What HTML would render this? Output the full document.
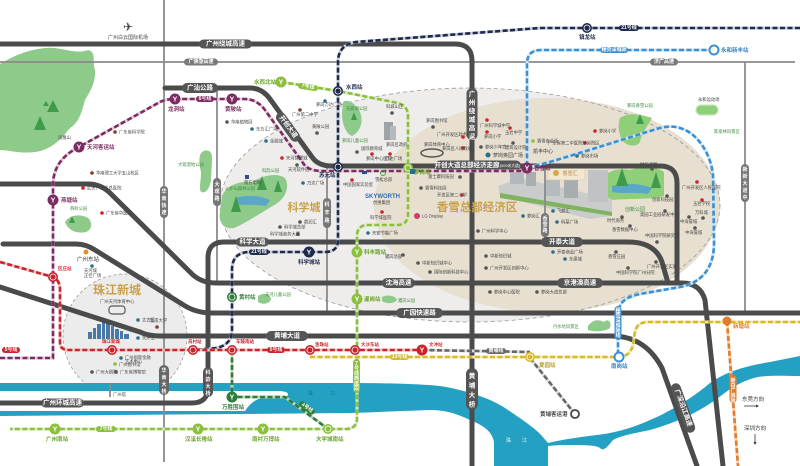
<!DOCTYPE html>
<html><head><meta charset="utf-8">
<style>
html,body{margin:0;padding:0;background:#fff;}
svg{display:block;font-family:"Liberation Sans","Noto Sans CJK SC",sans-serif;}
.rd{fill:none;stroke:#4b4b4b;stroke-width:5;stroke-linecap:round;stroke-linejoin:round}
.tr{fill:none;stroke:#8a8a8a;stroke-width:1.8}
.pl{fill:#555}
.pt{fill:#fff;font-size:6.5px;font-weight:bold;text-anchor:middle;dominant-baseline:central}
.ps{fill:#fff;font-size:5px;font-weight:bold;text-anchor:middle;dominant-baseline:central}
.u{fill:none;stroke-width:3}
.d{fill:none;stroke-width:2.6;stroke-dasharray:5 2.5}
.poi{font-size:4.3px;fill:#444}
.st{font-size:5.5px;font-weight:bold}
.yt{fill:#fff;font-size:7px;font-weight:bold;text-anchor:middle}
</style></head><body>
<svg width="800" height="466" viewBox="0 0 800 466" xmlns="http://www.w3.org/2000/svg">
<rect width="800" height="466" fill="#fff"/>

<!-- zones -->
<ellipse cx="470" cy="205" rx="250" ry="117" fill="#eeedeb"/>
<ellipse cx="547" cy="205" rx="173" ry="107" fill="#e7dfcf"/>
<ellipse cx="470" cy="205" rx="250" ry="117" fill="none" stroke="#9a9a9a" stroke-width="0.8" stroke-dasharray="4 3"/>
<circle cx="125" cy="336" r="62" fill="#ececec" stroke="#9a9a9a" stroke-width="0.8" stroke-dasharray="3 2.5"/>

<!-- river -->
<path d="M0,383 L348,383 C390,383 420,384 440,386 C465,390 490,398 505,408 C520,418 535,428 542,436 L548,443 C560,440 580,437 597,435 C615,433 635,427 650,420 C665,414 690,400 710,383 C725,372 745,366 770,362 L800,356 L800,376 C785,376 770,375 758,377 C745,380 735,385 722,395 C705,408 685,420 650,430 C630,434 620,436 613,440 C608,446 604,452 600,448 C596,445 585,445 560,445 L548,446 L548,466 L494,466 L494,442 C492,432 485,426 470,420 C455,413 445,410 430,410 C400,411 380,412 350,413 L0,416 Z" fill="#23a0c2"/>
<path d="M0,391 H280 Q289,392 288,395 Q286,398 278,398 L262,398 Q252,400 245,411 H0 Z" fill="#fff"/>

<!-- parks -->
<path d="M0,64 C10,58 25,50 45,48 C60,46 75,55 88,50 C97,52 92,62 95,70 C96,82 90,92 85,100 C82,110 80,122 70,128 C62,138 52,150 35,152 C20,154 8,150 0,150 Z" fill="#8ecb8a"/>
<polygon points="53,100 47,112 59,112" fill="#3f9a4a"/><polygon points="40,116 34,130 46,130" fill="#3f9a4a"/><polygon points="46,101 43,106 49,106" fill="#3f9a4a"/>
<text x="58" y="139" class="poi" fill="#3f8a3f">凤凰山</text>
<path d="M65,222 C70,214 82,214 88,218 C93,222 92,230 86,232 C78,234 68,231 65,222 Z" fill="#8ecb8a"/><polygon points="72,216 69,223 75,223" fill="#3f9a4a"/>
<path d="M202,152 C208,148 213,152 212,160 L211,180 C210,188 206,194 201,192 C198,186 203,176 200,168 C199,160 199,155 202,152 Z" fill="#8ecb8a"/>
<path d="M222,196 C226,186 240,180 252,182 C262,176 276,172 285,178 C290,186 286,198 276,204 C262,212 248,222 234,228 C224,230 218,222 220,212 Z" fill="#8ecb8a"/>
<path d="M236,198 C246,194 262,196 270,200 L266,206 C254,204 244,206 236,204 Z" fill="#5aa7c7"/>
<polygon points="236,196 231,212 241,212" fill="#3f9a4a"/><polygon points="262,176 257,190 267,190" fill="#3f9a4a"/><polygon points="278,180 274,192 282,192" fill="#3f9a4a"/>
<path d="M343,102 C348,98 356,104 360,112 C364,122 360,132 352,136 C346,134 342,124 342,114 Z" fill="#8ecb8a"/><polygon points="354,112 351,120 357,120" fill="#3f9a4a"/>
<path d="M600,182 C606,170 618,168 630,170 C642,166 656,166 664,172 L664,196 C650,200 630,198 612,200 C604,196 600,190 600,182 Z" fill="#8fcf78"/>
<path d="M612,186 C626,182 642,184 652,188 L648,194 C636,192 622,194 612,192 Z" fill="#5aa7c7"/>
<polygon points="622,168 616,186 628,186" fill="#3f9a4a"/><polygon points="656,172 651,188 661,188" fill="#3f9a4a"/>
<path d="M620,118 C628,112 640,114 652,118 C648,126 642,132 640,142 C636,148 626,146 622,140 C618,132 618,124 620,118 Z" fill="#8fcf78"/><polygon points="640,114 636,124 644,124" fill="#3f9a4a"/>
<rect x="696" y="105" width="22" height="10" rx="5" fill="#8fcf78" stroke="#c6e6b8" stroke-width="1.2"/>
<path d="M258,296 C264,292 270,294 271,299 C270,304 262,305 258,302 Z" fill="#8ecb8a"/>
<path d="M382,297 C388,294 396,296 397,300 C394,304 386,304 382,301 Z" fill="#8ecb8a"/>
<path d="M588,326 C594,318 600,320 604,322 C608,318 612,322 610,328 C604,332 594,332 588,330 Z" fill="#8ecb8a"/>

<!-- xiangxue illustration -->
<polygon points="498,186 520,178 612,199 612,216 590,219 500,196" fill="#c9ccca"/>
<rect x="510" y="168" width="14" height="16" fill="#b3b8bc"/><rect x="526" y="172" width="10" height="14" fill="#a9aeb3"/>
<rect x="546" y="180" width="14" height="16" fill="#b6bbbf"/><rect x="564" y="176" width="14" height="22" fill="#a8adb2"/>
<rect x="588" y="170" width="20" height="32" fill="#bfc3c6"/>
<polygon points="500,193 612,212 612,216 500,198" fill="#7fb35f"/>
<rect x="548" y="166" width="37" height="14" rx="2" fill="#f2e7d0" stroke="#d8c49a" stroke-width="0.5"/>
<circle cx="556" cy="173" r="3" fill="#d4a94e"/><text x="570" y="175" font-size="5" fill="#b68a3e" text-anchor="middle">香雪汇</text>
<rect x="384" y="122" width="9" height="18" fill="#9ea3a8"/><rect x="390" y="126" width="6" height="14" fill="#b5babe"/>
<ellipse cx="432" cy="153" rx="11" ry="4" fill="none" stroke="#555" stroke-width="1.5"/>
<!-- skyline -->
<g fill="#4a78a8"><rect x="88" y="332" width="4" height="7"/><rect x="93" y="328" width="3" height="11"/><rect x="97" y="324" width="4" height="15"/><rect x="102" y="318" width="3" height="21"/><rect x="106" y="322" width="4" height="17"/><rect x="111" y="326" width="3" height="13"/><rect x="115" y="329" width="4" height="10"/><rect x="120" y="331" width="3" height="8"/><rect x="124" y="334" width="5" height="5"/></g>
<rect x="109" y="306" width="16" height="8" rx="3" fill="none" stroke="#555" stroke-width="1.2"/>

<!-- thin roads -->
<path class="tr" d="M0,62 H795"/>
<path class="tr" d="M164,0 V462"/>
<path class="tr" d="M217,88 V283"/>
<path class="tr" d="M327,166 V313"/>
<path class="tr" d="M545,166 V242"/>
<path class="tr" d="M745,62 V313"/>
<path class="tr" d="M110,384 V397" stroke="#555"/>

<!-- thick roads -->
<path class="rd" d="M0,44 H455 Q472,44 472,61 V466"/>
<path class="rd" d="M165,88 H250 Q262,88 270,99 L312,157 Q318,166 332,166 H660 Q677,166 677,183 V283"/>
<path class="rd" d="M0,184 H88 Q100,184 109,192 L190,272 Q200,283 216,283 H682 Q700,283 705,300 L723,466"/>
<path class="rd" d="M0,403 H192 Q208,403 208,387 V258 Q208,242 224,242 H628 Q655,242 662,262 L668,283"/>
<path class="rd" d="M3,244 H76 Q86,244 95,250 L182,304 Q195,313 212,313 H800"/>
<path class="rd" d="M0,287 L140,332 Q148,336 160,336 H612 Q645,336 662,368 L697,466"/>

<!-- road labels -->
<rect class="pl" x="199" y="39.5" width="53" height="9" rx="4.5"/><text class="pt" x="225.5" y="44">广州绕城高速</text>
<rect x="184" y="58.5" width="34" height="7" rx="3.5" fill="#7a7a7a"/><text class="ps" x="201" y="62">广佛肇高速</text>
<rect x="650" y="58.5" width="28" height="7" rx="3.5" fill="#7a7a7a"/><text class="ps" x="664" y="62">济广高速</text>
<rect class="pl" x="182" y="83" width="36" height="10" rx="5"/><text class="pt" x="200" y="88">广汕公路</text>
<g transform="rotate(54 288 127)"><rect class="pl" x="271" y="122" width="34" height="10" rx="5"/><text class="pt" x="288" y="127">开创大道</text></g>
<rect class="pl" x="435" y="160.5" width="86" height="10" rx="5"/><text class="pt" x="467" y="165.5">开创大道总部经济走廊</text><text x="510" y="166" font-size="3.8" fill="#fff" text-anchor="middle" dominant-baseline="central">(500米大道)</text>
<rect class="pl" x="466.5" y="88" width="11" height="52" rx="5.5"/>
<text class="pt" x="472" font-size="7"><tspan x="472" y="94">广</tspan><tspan x="472" y="102.5">州</tspan><tspan x="472" y="111">绕</tspan><tspan x="472" y="119.5">城</tspan><tspan x="472" y="128">高</tspan><tspan x="472" y="136.5">速</tspan></text>
<rect class="pl" x="236" y="237.5" width="33" height="9" rx="4.5"/><text class="pt" x="252.5" y="242">科学大道</text>
<rect class="pl" x="541" y="237" width="42" height="10" rx="5"/><text class="pt" x="562" y="242" font-size="7.5">开泰大道</text>
<rect class="pl" x="382" y="278" width="33" height="10" rx="5"/><text class="pt" x="398.5" y="283">沈海高速</text>
<rect class="pl" x="557" y="278" width="46" height="10" rx="5"/><text class="pt" x="580" y="283">京港澳高速</text>
<rect class="pl" x="396" y="308" width="47" height="10" rx="5"/><text class="pt" x="419.5" y="313">广园快速路</text>
<rect class="pl" x="266" y="331" width="42" height="10" rx="5"/><text class="pt" x="287" y="336">黄埔大道</text>
<rect class="pl" x="41" y="398.5" width="43" height="9" rx="4.5"/><text class="pt" x="62.5" y="403" font-size="6">广州环城高速</text>
<rect x="160" y="186" width="8" height="32" rx="4" fill="#777"/>
<text class="ps"><tspan x="164" y="192">华</tspan><tspan x="164" y="199">南</tspan><tspan x="164" y="206">快</tspan><tspan x="164" y="213">速</tspan></text>
<rect x="213" y="178" width="8" height="28" rx="4" fill="#777"/>
<text class="ps"><tspan x="217" y="185">大</tspan><tspan x="217" y="192">观</tspan><tspan x="217" y="199">路</tspan></text>
<rect x="323" y="198" width="8" height="30" rx="4" fill="#777"/>
<text class="ps"><tspan x="327" y="205">科</tspan><tspan x="327" y="213">丰</tspan><tspan x="327" y="221">路</tspan></text>
<rect x="541" y="213" width="8" height="24" rx="4" fill="#777"/>
<text class="ps" font-size="4.5"><tspan x="545" y="219">香</tspan><tspan x="545" y="225">雪</tspan><tspan x="545" y="231">路</tspan></text>
<rect x="741" y="164" width="8" height="38" rx="4" fill="#777"/>
<text class="ps"><tspan x="745" y="170">新</tspan><tspan x="745" y="177">新</tspan><tspan x="745" y="184">大</tspan><tspan x="745" y="191">道</tspan><tspan x="745" y="198">中</tspan></text>
<rect x="159" y="365" width="10" height="30" rx="5" fill="#666"/>
<text class="ps" font-size="6"><tspan x="164" y="371">华</tspan><tspan x="164" y="378">南</tspan><tspan x="164" y="385">大</tspan><tspan x="164" y="392">桥</tspan></text>
<rect class="pl" x="203" y="367" width="10" height="30" rx="5"/>
<text class="ps" font-size="6"><tspan x="208" y="373">科</tspan><tspan x="208" y="380">韵</tspan><tspan x="208" y="387">大</tspan><tspan x="208" y="394">桥</tspan></text>
<rect class="pl" x="466" y="368" width="12" height="42" rx="6"/>
<text class="pt" font-size="8"><tspan x="472" y="376">黄</tspan><tspan x="472" y="385.5">埔</tspan><tspan x="472" y="395">大</tspan><tspan x="472" y="404.5">桥</tspan></text>
<g transform="rotate(70 683 408)"><rect class="pl" x="657" y="403" width="52" height="10" rx="5"/><text class="pt" x="683" y="408">广深沿江高速</text></g>

<!-- rail lines -->
<path class="u" stroke="#e6c9dc" d="M0,358 H53 V185 Q53,160 79,147 L160,102 Q166,99 175,99 H244 Q257,99 265,110 L303,163 Q308,171 322,171 H527"/>
<path class="d" stroke="#7b2d62" d="M0,358 H53 V185 Q53,160 79,147 L160,102 Q166,99 175,99 H244 Q257,99 265,110 L303,163 Q308,171 322,171 H527"/>
<path class="u" stroke="#c9ccd6" d="M800,28 H540 L356,42 Q338,45 338,62 V240 Q338,252 325,252 H250 Q232,252 232,270 V330 Q232,345 216,348 L193,350"/>
<path class="d" stroke="#1f2b4d" d="M800,28 H540 L356,42 Q338,45 338,62 V240 Q338,252 325,252 H250 Q232,252 232,270 V330 Q232,345 216,348 L193,350"/>
<path class="u" stroke="#dde9c6" d="M281,82 L338,91 L398,103 Q408,106 408,116 V214 Q408,225 397,225 H368 Q357,225 357,236 V418 Q357,429 346,429 H10"/>
<path class="d" stroke="#8cbf3c" d="M281,82 L338,91 L398,103 Q408,106 408,116 V214 Q408,225 397,225 H368 Q357,225 357,236 V418 Q357,429 346,429 H10"/>
<path class="u" stroke="#bcd9c0" d="M232,350 V397 H285 L328,429"/>
<path class="d" stroke="#2e7d3b" d="M232,350 V397 H285 L328,429"/>
<path class="u" stroke="#f3c4c4" d="M0,262 L53,277 Q60,280 60,290 V342 Q60,350 68,350 H422"/>
<path class="d" stroke="#c9252c" d="M0,262 L53,277 Q60,280 60,290 V342 Q60,350 68,350 H422"/>
<path class="u" stroke="#dddddd" d="M422,350 L530,352 M530,358 L575,414"/>
<path class="d" stroke="#666" d="M422,350 L530,352 M530,358 L575,414"/>
<path class="u" stroke="#f3ebb8" d="M310,357 H618 Q630,357 633,345 L635,332 Q637,322 648,322 H800"/>
<path class="d" stroke="#d8b92a" d="M310,357 H618 Q630,357 633,345 L635,332 Q637,322 648,322 H800"/>
<path class="u" stroke="#cfe3f3" d="M714,50 H541 Q527,50 527,64 V168 C560,160 620,140 660,128 C690,120 710,148 713,175 L714,240 C715,270 700,283 680,287 L640,294 C625,297 618,303 618,315 V357"/>
<path class="d" stroke="#3b8fd3" d="M714,50 H541 Q527,50 527,64 V168 C560,160 620,140 660,128 C690,120 710,148 713,175 L714,240 C715,270 700,283 680,287 L640,294 C625,297 618,303 618,315 V357"/>
<path class="u" stroke="#f6d6bb" d="M727,321 L738,466"/>
<path class="d" stroke="#e27b2a" d="M727,321 L738,466"/>

<!-- line pills -->
<rect x="196" y="96" width="18" height="6" rx="3" fill="#7b2d62"/><text class="ps" x="205" y="99" font-size="4.3">6号线</text>
<rect x="298" y="84" width="20" height="6" rx="3" fill="#8cbf3c" transform="rotate(9 308 87)"/><text class="ps" x="308" y="87" font-size="4.3" transform="rotate(9 308 87)">7号线</text>
<rect x="249" y="249" width="20" height="6" rx="3" fill="#1f2b4d"/><text class="ps" x="259" y="252" font-size="4.3">21号线</text>
<rect x="619" y="25" width="20" height="6" rx="3" fill="#1f2b4d"/><text class="ps" x="629" y="28" font-size="4.3">21号线</text>
<rect x="600" y="47" width="28" height="6" rx="3" fill="#3b8fd3"/><text class="ps" x="614" y="50" font-size="4">穗莞深城际</text>
<rect x="390" y="354" width="19" height="6" rx="3" fill="#d8b92a"/><text class="ps" x="399.5" y="357" font-size="4.3">13号线</text>
<rect x="2" y="347" width="18" height="6" rx="3" fill="#c9252c"/><text class="ps" x="11" y="350" font-size="4.3">5号线</text>
<rect x="267" y="347" width="18" height="6" rx="3" fill="#c9252c"/><text class="ps" x="276" y="350" font-size="4.3">5号线</text>
<rect x="486" y="348" width="20" height="6" rx="3" fill="#666"/><text class="ps" x="496" y="351" font-size="4.3">黄埔线</text>
<rect x="96" y="426" width="20" height="6" rx="3" fill="#8cbf3c"/><text class="ps" x="106" y="429" font-size="4.3">7号线</text>
<g transform="rotate(37 307 408)"><rect x="298" y="405" width="18" height="6" rx="3" fill="#2e7d3b"/><text class="ps" x="307" y="408" font-size="4.3">4号线</text></g>
<rect x="353" y="359" width="7" height="34" rx="3.5" fill="#8cbf3c"/>
<text class="ps" font-size="4"><tspan x="356.5" y="364">7</tspan><tspan x="356.5" y="369">号</tspan><tspan x="356.5" y="374">线</tspan><tspan x="356.5" y="379">西</tspan><tspan x="356.5" y="384">延</tspan><tspan x="356.5" y="389">段</tspan></text>
<rect x="614.5" y="306" width="7" height="34" rx="3.5" fill="#3b8fd3"/>
<text class="ps" font-size="4"><tspan x="618" y="311">穗</tspan><tspan x="618" y="316">莞</tspan><tspan x="618" y="321">深</tspan><tspan x="618" y="326">城</tspan><tspan x="618" y="331">际</tspan><tspan x="618" y="336">线</tspan></text>
<rect x="729.5" y="375" width="7" height="28" rx="3.5" fill="#e27b2a"/>
<text class="ps" font-size="4"><tspan x="733" y="381">新</tspan><tspan x="733" y="386">白</tspan><tspan x="733" y="391">广</tspan><tspan x="733" y="396">城</tspan><tspan x="733" y="401">际</tspan></text>

<!-- stations -->
<g>
<circle cx="175" cy="99" r="5.5" fill="#7b2d62"/><text class="yt" x="175" y="101.5">Y</text>
<circle cx="232" cy="99" r="5.5" fill="#7b2d62"/><text class="yt" x="232" y="101.5">Y</text>
<circle cx="79" cy="147" r="5.5" fill="#7b2d62"/><text class="yt" x="79" y="149.5">Y</text>
<circle cx="53" cy="200" r="5.5" fill="#7b2d62"/><text class="yt" x="53" y="202.5">Y</text>
<circle cx="527" cy="168" r="5.5" fill="#7b2d62"/><text class="yt" x="527" y="170.5">Y</text>
<circle cx="281" cy="82" r="5.5" fill="#8cbf3c"/><text class="yt" x="281" y="84.5">Y</text>
<circle cx="357" cy="252" r="5.5" fill="#8cbf3c"/><text class="yt" x="357" y="254.5">Y</text>
<circle cx="357" cy="299" r="5.5" fill="#8cbf3c"/><text class="yt" x="357" y="301.5">Y</text>
<circle cx="55" cy="429" r="5.5" fill="#8cbf3c"/><text class="yt" x="55" y="431.5">Y</text>
<circle cx="198" cy="429" r="5.5" fill="#8cbf3c"/><text class="yt" x="198" y="431.5">Y</text>
<circle cx="263" cy="429" r="5.5" fill="#8cbf3c"/><text class="yt" x="263" y="431.5">Y</text>
<circle cx="328" cy="429" r="5" fill="#8cbf3c"/><circle cx="328" cy="429" r="3" fill="none" stroke="#fff" stroke-width="0.8"/>
<circle cx="309" cy="252" r="5.5" fill="#1f2b4d"/><text class="yt" x="309" y="254.5">Y</text>
<circle cx="232" cy="297" r="5" fill="#2e7d3b"/><circle cx="232" cy="297" r="3" fill="none" stroke="#fff" stroke-width="0.8"/>
<circle cx="232" cy="397" r="5.5" fill="#2e7d3b"/><text class="yt" x="232" y="399.5">Y</text>
<circle cx="338" cy="91" r="5" fill="#1f2b4d"/><circle cx="338" cy="91" r="3" fill="none" stroke="#fff" stroke-width="0.8"/>
<circle cx="338" cy="167" r="5" fill="#1f2b4d"/><circle cx="338" cy="167" r="3" fill="none" stroke="#fff" stroke-width="0.8"/>
<circle cx="587" cy="28" r="5" fill="#1f2b4d"/><circle cx="587" cy="28" r="3" fill="none" stroke="#fff" stroke-width="0.8"/>
<circle cx="408" cy="168" r="5" fill="#8cbf3c"/><circle cx="408" cy="168" r="3" fill="none" stroke="#fff" stroke-width="0.8"/>
<circle cx="53" cy="277" r="5" fill="#c9252c"/><circle cx="53" cy="277" r="3" fill="none" stroke="#fff" stroke-width="0.8"/>
<circle cx="112" cy="350" r="5" fill="#c9252c"/><circle cx="112" cy="350" r="3" fill="none" stroke="#fff" stroke-width="0.8"/>
<circle cx="193" cy="350" r="5" fill="#c9252c"/><circle cx="193" cy="350" r="3" fill="none" stroke="#fff" stroke-width="0.8"/>
<circle cx="232" cy="350" r="5" fill="#c9252c"/><circle cx="232" cy="350" r="3" fill="none" stroke="#fff" stroke-width="0.8"/>
<circle cx="310" cy="350" r="5" fill="#c9252c"/><circle cx="310" cy="350" r="3" fill="none" stroke="#fff" stroke-width="0.8"/>
<circle cx="355" cy="350" r="5" fill="#c9252c"/><circle cx="355" cy="350" r="3" fill="none" stroke="#fff" stroke-width="0.8"/>
<circle cx="422" cy="350" r="5.5" fill="#c9252c"/><text class="yt" x="422" y="352.5">Y</text>
<circle cx="530" cy="357" r="5" fill="#d8b92a"/><circle cx="530" cy="357" r="3" fill="none" stroke="#fff" stroke-width="0.8"/>
<circle cx="619" cy="357" r="4.5" fill="#fff" stroke="#3b8fd3" stroke-width="2"/>
<circle cx="714" cy="50" r="4.5" fill="#fff" stroke="#3b8fd3" stroke-width="2"/>
<circle cx="727" cy="321" r="4.5" fill="#e27b2a"/>
<circle cx="575" cy="414" r="4" fill="#fff" stroke="#444" stroke-width="1.8"/>
</g>

<!-- station labels -->
<g class="st">
<text x="168" y="111" fill="#7b2d62">龙洞站</text>
<text x="225" y="111" fill="#7b2d62">黄陂站</text>
<text x="87" y="149" fill="#7b2d62">天河客运站</text>
<text x="61" y="202" fill="#7b2d62">燕塘站</text>
<text x="58" y="270" fill="#c9252c" font-size="4.5">区庄站</text>
<text x="254" y="84" fill="#6aa12a">水西北站</text>
<text x="346" y="89" fill="#1f2b4d">水西站</text>
<text x="319" y="177" fill="#1f2b4d">苏元站</text>
<text x="414" y="174" fill="#6aa12a">萝岗站</text>
<text x="534" y="170" fill="#7b2d62">香雪站</text>
<text x="298" y="264" fill="#1f2b4d">科学城站</text>
<text x="364" y="254" fill="#6aa12a">科丰路站</text>
<text x="364" y="301" fill="#6aa12a">暹岗站</text>
<text x="239" y="299" fill="#2e7d3b">黄村站</text>
<text x="222" y="409" fill="#2e7d3b">万胜围站</text>
<text x="102" y="343" fill="#c9252c" font-size="4.5">珠江新城</text>
<text x="188" y="343" fill="#c9252c" font-size="4.5">员村站</text>
<text x="236" y="343" fill="#c9252c" font-size="4.5">车陂南站</text>
<text x="315" y="346" fill="#c9252c" font-size="4.5">鱼珠站</text>
<text x="361" y="346" fill="#c9252c" font-size="4.5">大沙东站</text>
<text x="429" y="346" fill="#c9252c" font-size="4.5">文冲站</text>
<text x="539" y="367" fill="#b89b1c">夏园站</text>
<text x="611" y="368" fill="#2f7fc1">南岗站</text>
<text x="733" y="328" fill="#e27b2a">新塘站</text>
<text x="540" y="416" fill="#444">黄埔客运港</text>
<text x="579" y="39" fill="#1f2b4d">镇龙站</text>
<text x="721" y="52" fill="#2f7fc1">永和新丰站</text>
<text x="46" y="441" fill="#6aa12a">广州南站</text>
<text x="185" y="441" fill="#6aa12a">汉溪长隆站</text>
<text x="252" y="441" fill="#6aa12a">南村万博站</text>
<text x="316" y="441" fill="#6aa12a">大学城南站</text>
</g>

<!-- big area labels -->
<text x="117" y="294" font-size="12" font-weight="bold" fill="#c9a04a" text-anchor="middle">珠江新城</text>
<text x="304" y="211" font-size="11" font-weight="bold" fill="#c9a04a" text-anchor="middle">科学城</text>
<text x="477" y="211" font-size="11.5" font-weight="bold" fill="#c9a04a" text-anchor="middle">香雪总部经济区</text>
<text x="365" y="198" font-size="6" font-weight="bold" fill="#2f6db0">SKYWORTH</text>
<text x="373" y="204" class="poi">创维集团</text>

<!-- misc -->
<text x="128" y="31" font-size="12" fill="#444" text-anchor="middle">✈</text>
<text x="128" y="39" font-size="5" fill="#444" text-anchor="middle">广州白云国际机场</text>
<text x="308" y="395" font-size="5" fill="#1c6f8a">珠</text><text x="330" y="395" font-size="5" fill="#1c6f8a">江</text>
<text x="506" y="442" font-size="5" fill="#e8f6fa">珠</text><text x="522" y="442" font-size="5" fill="#e8f6fa">江</text>
<text x="742" y="401" font-size="5.5" fill="#333">东莞方向</text>
<path d="M744,406 H758" stroke="#333" stroke-width="0.8"/><path d="M756,404.5 L759,406 L756,407.5 Z" fill="#333"/>
<text x="744" y="430" font-size="5.5" fill="#333">深圳方向</text>
<path d="M755,434 V444" stroke="#333" stroke-width="0.8"/><path d="M753.5,442 L755,445 L756.5,442 Z" fill="#333"/>

<!-- POIs -->
<g class="poi">
<circle cx="115" cy="132" r="1.8" fill="#8b3a2a"/><text x="119" y="133.5">广东省科学院</text>
<circle cx="92" cy="173" r="1.8" fill="#8b3a2a"/><text x="96" y="174.5">华南理工大学五山校区</text>
<circle cx="83" cy="188" r="1.8" fill="#c9252c"/><text x="87" y="189.5">武警广东省总医院</text>
<circle cx="102" cy="213" r="1.8" fill="#c9252c"/><text x="106" y="214.5">广东省中医院</text>
<text x="70" y="210" fill="#3f8a3f">燕岭公园</text>
<circle cx="86" cy="252" r="2.5" fill="#e2912a"/><text x="77" y="261" font-size="5.5" fill="#333">广州东站</text>
<circle cx="92" cy="266" r="1.8" fill="#2a6f8a"/><text x="84" y="272">天河城</text><text x="84" y="277">正佳广场</text>
<text x="100" y="303">广州天河体育中心</text>
<circle cx="138" cy="320" r="1.8" fill="#2a6f8a"/><text x="142" y="321.5">太古汇</text>
<circle cx="157" cy="327" r="1.8" fill="#8b3a2a"/><text x="150" y="322">暨南大学</text>
<circle cx="138" cy="338" r="1.8" fill="#2a6f8a"/><text x="142" y="339.5">天环汇</text>
<circle cx="121" cy="358" r="1.8" fill="#2a6f8a"/><text x="125" y="359">广州国际金融</text><text x="125" y="363">艺术中心</text>
<circle cx="115" cy="364" r="1.8" fill="#8cbf3c"/><text x="119" y="366">广州图书馆</text>
<circle cx="92" cy="372" r="1.8" fill="#555"/><text x="96" y="373.5">广州大剧院</text>
<circle cx="116" cy="372" r="1.8" fill="#555"/><text x="120" y="373.5">广东省博物馆</text>
<text x="113" y="396">广州塔</text>
<circle cx="227" cy="122" r="1.8" fill="#555"/><text x="231" y="123.5">华南植物园</text>
<circle cx="252" cy="129" r="1.8" fill="#2a6f8a"/><text x="256" y="130.5">东方汇广场</text>
<circle cx="266" cy="141" r="1.8" fill="#2a6f8a"/><text x="270" y="142.5">金融城</text>
<text x="178" y="166" fill="#3f8a3f">大观湿地公园</text>
<circle cx="282" cy="158" r="1.8" fill="#c9252c"/><text x="286" y="159.5">天河智慧城</text>
<circle cx="297" cy="165" r="1.8" fill="#555"/><text x="288" y="171">天河软件园</text>
<rect x="245" y="175" width="4" height="4" fill="#2f4d8a"/><text x="244" y="184">南方电网</text>
<text x="262" y="172" fill="#3f8a3f">科韵公园</text>
<circle cx="303" cy="183" r="1.8" fill="#2a6f8a"/><text x="307" y="184.5">万达广场</text>
<circle cx="300" cy="110" r="1.8" fill="#8b3a2a"/><text x="292" y="116">广州第二中学</text>
<circle cx="317" cy="133" r="1.8" fill="#555"/><text x="312" y="128">黄陂公园</text>
<circle cx="325" cy="101" r="1.8" fill="#2a6f8a"/><text x="316" y="106">萝岗万达广场</text>
<text x="346" y="110" fill="#3f8a3f">天鹿湖公园</text>
<text x="342" y="142" fill="#3f8a3f">萝岗儿童公园</text>
<circle cx="357" cy="152" r="1.8" fill="#555"/><text x="361" y="150">国际教育城</text>
<circle cx="372" cy="154" r="1.8" fill="#c9252c"/><text x="366" y="160">萝岗中心医院</text>
<circle cx="390" cy="154" r="1.8" fill="#c9252c"/><text x="385" y="160">万达广场</text>
<circle cx="392" cy="113" r="1.8" fill="#555"/><text x="386" y="108">科城山庄</text>
<text x="386" y="146">萝岗区政府</text>
<circle cx="433" cy="127" r="1.8" fill="#555"/><text x="426" y="122">萝岗图书馆</text>
<text x="424" y="146">萝岗体育中心</text>
<circle cx="463" cy="137" r="1.8" fill="#c9252c"/><text x="437" y="136">广州开发区政务中心</text>
<circle cx="463" cy="148" r="1.8" fill="#c9252c"/><text x="442" y="150">萝岗区人民政府</text>
<circle cx="487" cy="120" r="1.8" fill="#c9252c"/><text x="480" y="127">广州科学城中学</text>
<circle cx="487" cy="132" r="1.8" fill="#c9252c"/><text x="484" y="138">萝岗小学</text>
<circle cx="481" cy="147" r="1.8" fill="#555"/><text x="485" y="148.5">萝岗少年宫</text>
<circle cx="510" cy="128" r="1.8" fill="#c9252c"/><text x="505" y="134">玉岩中学</text>
<circle cx="513" cy="143" r="1.8" fill="#555"/><text x="505" y="149">建筑设计院</text>
<circle cx="488" cy="155" r="2.5" fill="#2a6f8a"/><text x="493" y="157" font-size="5">萝岗奥园广场</text>
<circle cx="533" cy="141" r="1.8" fill="#8cbf3c"/><text x="537" y="142.5">香雪商业街</text>
<text x="533" y="153" font-size="5" fill="#333">凯丰中心</text>
<circle cx="577" cy="156" r="1.8" fill="#2a6f8a"/><text x="581" y="157.5">萝岗市场</text>
<circle cx="595" cy="131" r="1.8" fill="#c9252c"/><text x="599" y="132.5">萝岗小学</text>
<circle cx="585" cy="143" r="1.8" fill="#c9252c"/><text x="548" y="144.5">广东省第二中医院萝岗院区</text>
<rect x="410" y="169" width="5" height="5" fill="#2a6f8a"/>
<circle cx="460" cy="177" r="1.8" fill="#555"/><text x="428" y="178">富士康科技园</text>
<circle cx="421" cy="188" r="1.8" fill="#555"/><text x="425" y="189.5">香雪科技园</text>
<circle cx="462" cy="195" r="1.8" fill="#c9252c"/><text x="437" y="196.5">开发区第二小学</text>
<circle cx="417" cy="216" r="3" fill="#d43a6a"/><text x="422" y="217.5">LG Display</text>
<circle cx="383" cy="173" r="2.5" fill="none" stroke="#4aa04a" stroke-width="1"/><text x="375" y="181">雪松总部</text>
<circle cx="352" cy="180" r="1.8" fill="#c9252c"/><text x="343" y="186">中国国家实验室</text>
<rect x="362" y="171" width="5" height="3" fill="#2f4d8a"/>
<circle cx="382" cy="212" r="1.8" fill="#c9252c"/><text x="370" y="219">科学城医院</text>
<circle cx="368" cy="233" r="1.8" fill="#2a6f8a"/><text x="372" y="234.5">天安节能广场</text>
<circle cx="300" cy="222" r="1.8" fill="#555"/><text x="304" y="223.5">鼎润汇</text>
<circle cx="280" cy="227" r="1.8" fill="#555"/><text x="284" y="228.5">科学城总部</text>
<circle cx="298" cy="234" r="1.8" fill="#555"/><text x="270" y="235.5">科学城商务大厦</text>
<circle cx="403" cy="255" r="1.8" fill="#555"/><text x="385" y="258">暹岗总部</text>
<circle cx="418" cy="263" r="1.8" fill="#555"/><text x="422" y="264.5">中新知识城中心</text>
<circle cx="430" cy="272" r="1.8" fill="#555"/><text x="434" y="273.5">国际创新科技中心</text>
<circle cx="478" cy="231" r="1.8" fill="#555"/><text x="482" y="232.5">广州科学中心</text>
<circle cx="486" cy="256" r="1.8" fill="#555"/><text x="490" y="257.5">中新知识城</text>
<circle cx="486" cy="268" r="1.8" fill="#555"/><text x="490" y="269.5">广州开发区创新中心</text>
<circle cx="490" cy="292" r="1.8" fill="#555"/><text x="494" y="293.5">萝岗中心医院</text>
<circle cx="553" cy="211" r="1.8" fill="#2a6f8a"/><text x="557" y="212.5">飞鹅汇</text>
<circle cx="557" cy="222" r="1.8" fill="#2a6f8a"/><text x="561" y="223.5">科基广场</text>
<circle cx="523" cy="216" r="1.8" fill="#2a6f8a"/><text x="527" y="217.5">萝岗汇</text>
<circle cx="652" cy="169" r="1.8" fill="#555"/><text x="640" y="166">时代鸿图</text>
<circle cx="667" cy="196" r="1.8" fill="#555"/><text x="652" y="201">创新科技园</text>
<circle cx="665" cy="211" r="1.8" fill="#555"/><text x="640" y="216">奥园工业园研发中心</text>
<circle cx="622" cy="217" r="1.8" fill="#555"/><text x="607" y="222">时代商务</text>
<circle cx="630" cy="226" r="1.8" fill="#555"/><text x="612" y="231">香雪数据中心</text>
<circle cx="657" cy="242" r="1.8" fill="#555"/><text x="645" y="237">中国科学院研究所</text>
<circle cx="656" cy="262" r="1.8" fill="#555"/><text x="647" y="268">广州开发区实验</text>
<text x="625" y="211" fill="#3f8a3f" font-size="5">创新公园</text>
<circle cx="697" cy="182" r="1.8" fill="#c9252c"/><text x="682" y="189">广州开发区人民医院</text>
<circle cx="702" cy="200" r="1.8" fill="#c9252c"/><text x="693" y="205">玉岩学校</text>
<circle cx="703" cy="218" r="1.8" fill="#555"/><text x="695" y="214">万科城</text>
<circle cx="689" cy="217" r="1.8" fill="#555"/><text x="680" y="223">中海誉城</text>
<circle cx="695" cy="228" r="1.8" fill="#555"/><text x="685" y="234">中海誉城</text>
<circle cx="553" cy="252" r="1.8" fill="#2a6f8a"/><text x="557" y="253.5">开泰商业广场</text>
<circle cx="565" cy="259" r="1.8" fill="#2a6f8a"/><text x="569" y="260.5">东建城</text>
<circle cx="616" cy="252" r="1.8" fill="#555"/><text x="608" y="258">香雪庄园</text>
<circle cx="628" cy="268" r="1.8" fill="#555"/><text x="616" y="274">中国科学院广州分院</text>
<circle cx="537" cy="292" r="1.8" fill="#555"/><text x="541" y="293.5">萝岗大道总部</text>
<text x="627" y="107" fill="#3f8a3f">萝岗香雪公园</text>
<text x="698" y="101">永和运动场</text>
<text x="714" y="133" fill="#3f8a3f">陈家林风景区</text>
<text x="553" y="328" fill="#3f8a3f">丹水坑风景区</text>
<text x="265" y="296" fill="#3f8a3f">天河儿童公园</text>
<text x="398" y="302" fill="#3f8a3f">暹岗公园</text>
<text x="225" y="190" fill="#3f8a3f">火炉山森林公园</text>
</g>
</svg>
</body></html>
